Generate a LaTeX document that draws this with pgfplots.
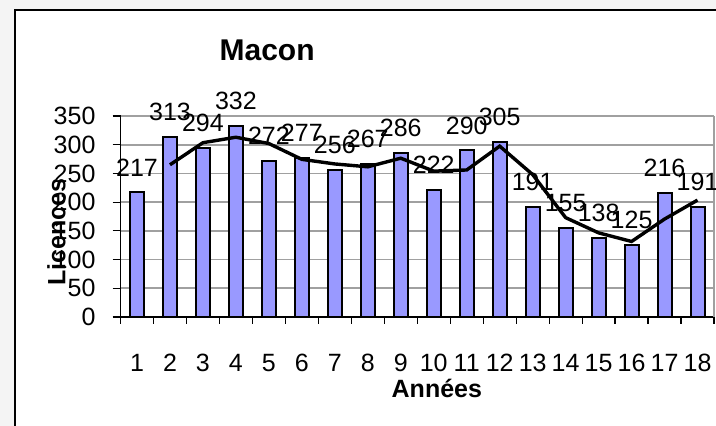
\documentclass[border=0pt]{standalone}
\usepackage{fontspec}
\setmainfont{Liberation Sans}
\usepackage{pgfplots}
\pgfplotsset{compat=1.18}
\definecolor{barfill}{HTML}{9999FF}
\definecolor{gridgray}{HTML}{A0A0A0}
\definecolor{outside}{HTML}{F4F4F4}

\begin{document}
\begin{tikzpicture}[x=1pt,y=1pt]
\useasboundingbox (0,0) rectangle (358,213);
\fill[outside] (0,0) rectangle (358,213);
\fill[white] (7.5,-5) rectangle (365,208);
\draw[line width=1.1pt] (7.5,-5) -- (7.5,208) -- (365,208);
\begin{axis}[
  at={(60.25pt,54.5pt)}, anchor=south west,
  scale only axis, width=296.75pt, height=100.5pt,
  xmin=0.5, xmax=18.5, ymin=0, ymax=350,
  clip=false,
  axis x line*=bottom, axis y line*=left,
  axis line style={-, black, line width=0.6pt},
  xtick={1,...,18},
  minor xtick={0.5,1.5,...,18.5},
  ytick={0,50,...,350},
  tick align=outside,
  major tick length=4pt, minor tick length=3.5pt,
  major x tick style={draw=none},
  tick style={black, line width=0.6pt},
  ymajorgrids, major grid style={gridgray, line width=0.8pt},
  /pgf/number format/assume math mode=true,
  ticklabel style={font=\fontsize{12.5}{12.5}\selectfont},
  xticklabel style={anchor=north, yshift=-11pt},
  yticklabel style={anchor=east, xshift=-5pt},
  title={\bfseries Macon},
  title style={font=\fontsize{15}{15}\selectfont, at={(rel axis cs:0.247,1)}, anchor=center, yshift=27pt},
  xlabel={\bfseries Années},
  xlabel style={font=\fontsize{12.5}{12.5}\selectfont, at={(rel axis cs:0.533,0)}, anchor=center, yshift=-35.5pt},
  ylabel={\bfseries Licences},
  ylabel style={font=\fontsize{12.5}{12.5}\selectfont, at={(rel axis cs:0,0.423)}, anchor=center, yshift=32pt},
]
\addplot[ybar, bar width=7pt, bar shift=0pt, fill=barfill, draw=black, line width=1pt,
  nodes near coords,
  every node near coord/.append style={anchor=center, yshift=12.5pt, font=\fontsize{12.5}{12.5}\selectfont, text=black}]
  coordinates {(1,217)(2,313)(3,294)(4,332)(5,272)(6,277)(7,256)(8,267)(9,286)
               (10,222)(11,290)(12,305)(13,191)(14,155)(15,138)(16,125)(17,216)(18,191)};
\addplot[black, line width=1.7pt, mark=none]
  coordinates {(2,265)(3,303.5)(4,313)(5,302)(6,274.5)(7,266.5)(8,261.5)(9,276.5)(10,254)
               (11,256)(12,297.5)(13,248)(14,173)(15,146.5)(16,131.5)(17,170.5)(18,203.5)};
\draw[gridgray, line width=0.8pt] (rel axis cs:1,0) -- (rel axis cs:1,1);
\end{axis}
\end{tikzpicture}
\end{document}
